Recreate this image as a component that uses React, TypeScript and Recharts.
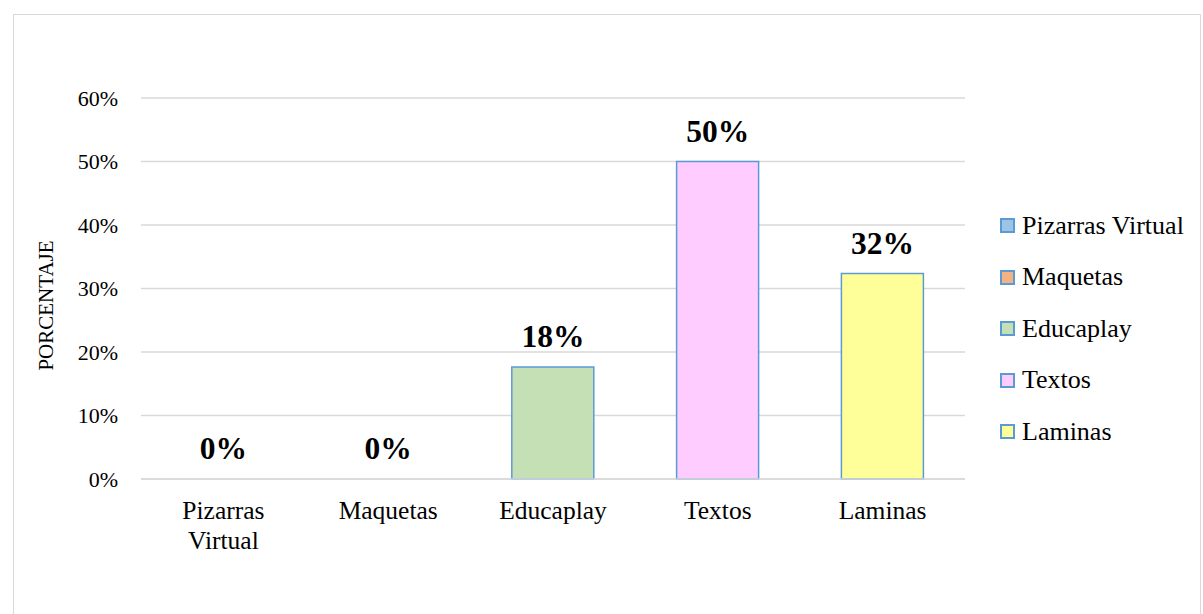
import React from "react";
import { ComposedChart, Bar, Line, XAxis, YAxis, CartesianGrid, Cell, LabelList } from "recharts";

const categories = ["Pizarras Virtual", "Maquetas", "Educaplay", "Textos", "Laminas"];
const values = [0, 0, 17.65, 50, 32.35];
const labels = ["0%", "0%", "18%", "50%", "32%"];
const colors = ["#9DC3E6", "#F4B183", "#C5E0B4", "#FFCCFF", "#FFFF99"];
const yTicks = [0, 10, 20, 30, 40, 50, 60];

const data = categories.map((c, i) => ({ name: c, value: values[i], label: labels[i] }));

const FONT = "Liberation Serif";

const XTick = (props: any) => {
  const { x, y, payload } = props;
  const text: string = payload.value;
  const lines = text.length > 10 ? text.split(" ") : [text];
  return (
    <text x={x} y={y} textAnchor="middle" fontFamily={FONT} fontSize={25.5} fill="#000">
      {lines.map((l, i) => (
        <tspan key={i} x={x} dy={i === 0 ? 32 : 30}>{l}</tspan>
      ))}
    </text>
  );
};

const DataLabel = (props: any) => {
  const { x, y, value } = props;
  return (
    <text x={Number(x)} y={Number(y) - 20} textAnchor="middle" fontFamily={FONT} fontSize={31.5} fontWeight="bold" fill="#000">
      {value}
    </text>
  );
};

export default function App() {
  return (
    <div style={{ position: "absolute", left: 0, top: 0, width: 1203, height: 614, background: "#fff", fontFamily: FONT }}>
      <div style={{ position: "absolute", left: 13, top: 14, width: 1188, height: 620, border: "1.5px solid #d9d9d9", boxSizing: "border-box" }} />
      <div style={{ position: "absolute", left: 0, top: 0 }}>
        <ComposedChart width={1203} height={614} data={data} margin={{ top: 98, right: 238, bottom: 105, left: 0 }} barCategoryGap="25%">
          <CartesianGrid vertical={false} stroke="#d9d9d9" strokeWidth={1.5} />
          <XAxis dataKey="name" height={30} tick={<XTick />} tickLine={false} axisLine={{ stroke: "#d9d9d9", strokeWidth: 1.5 }} interval={0} />
          <YAxis
            width={141}
            domain={[0, 60]}
            ticks={yTicks}
            tickFormatter={(v: number) => `${v}%`}
            axisLine={false}
            tickLine={false}
            tickSize={0}
            tickMargin={23}
            tick={{ fontFamily: FONT, fontSize: 22, fill: "#000" }}
            label={{ value: "PORCENTAJE", angle: -90, position: "insideLeft", dx: 41, dy: 17, style: { fontFamily: FONT, fontSize: 21, fill: "#000", textAnchor: "middle" } }}
          />
          <Bar dataKey="value" stroke="#5B9BD5" strokeWidth={1.5} isAnimationActive={false}>
            {data.map((d, i) => (
              <Cell key={d.name} fill={colors[i]} />
            ))}
          </Bar>
          <Line dataKey="value" stroke="none" dot={false} activeDot={false} legendType="none" isAnimationActive={false}>
            <LabelList dataKey="label" content={<DataLabel />} />
          </Line>
        </ComposedChart>
      </div>
      <div style={{ position: "absolute", left: 1000, top: 200, fontFamily: FONT, fontSize: 26, color: "#000" }}>
        {categories.map((c, i) => (
          <div key={c} style={{ display: "flex", alignItems: "center", height: 51.5 }}>
            <span style={{ display: "inline-block", width: 11, height: 11, background: colors[i], border: "2px solid #5B9BD5", marginRight: 7 }} />
            <span>{c}</span>
          </div>
        ))}
      </div>
    </div>
  );
}
